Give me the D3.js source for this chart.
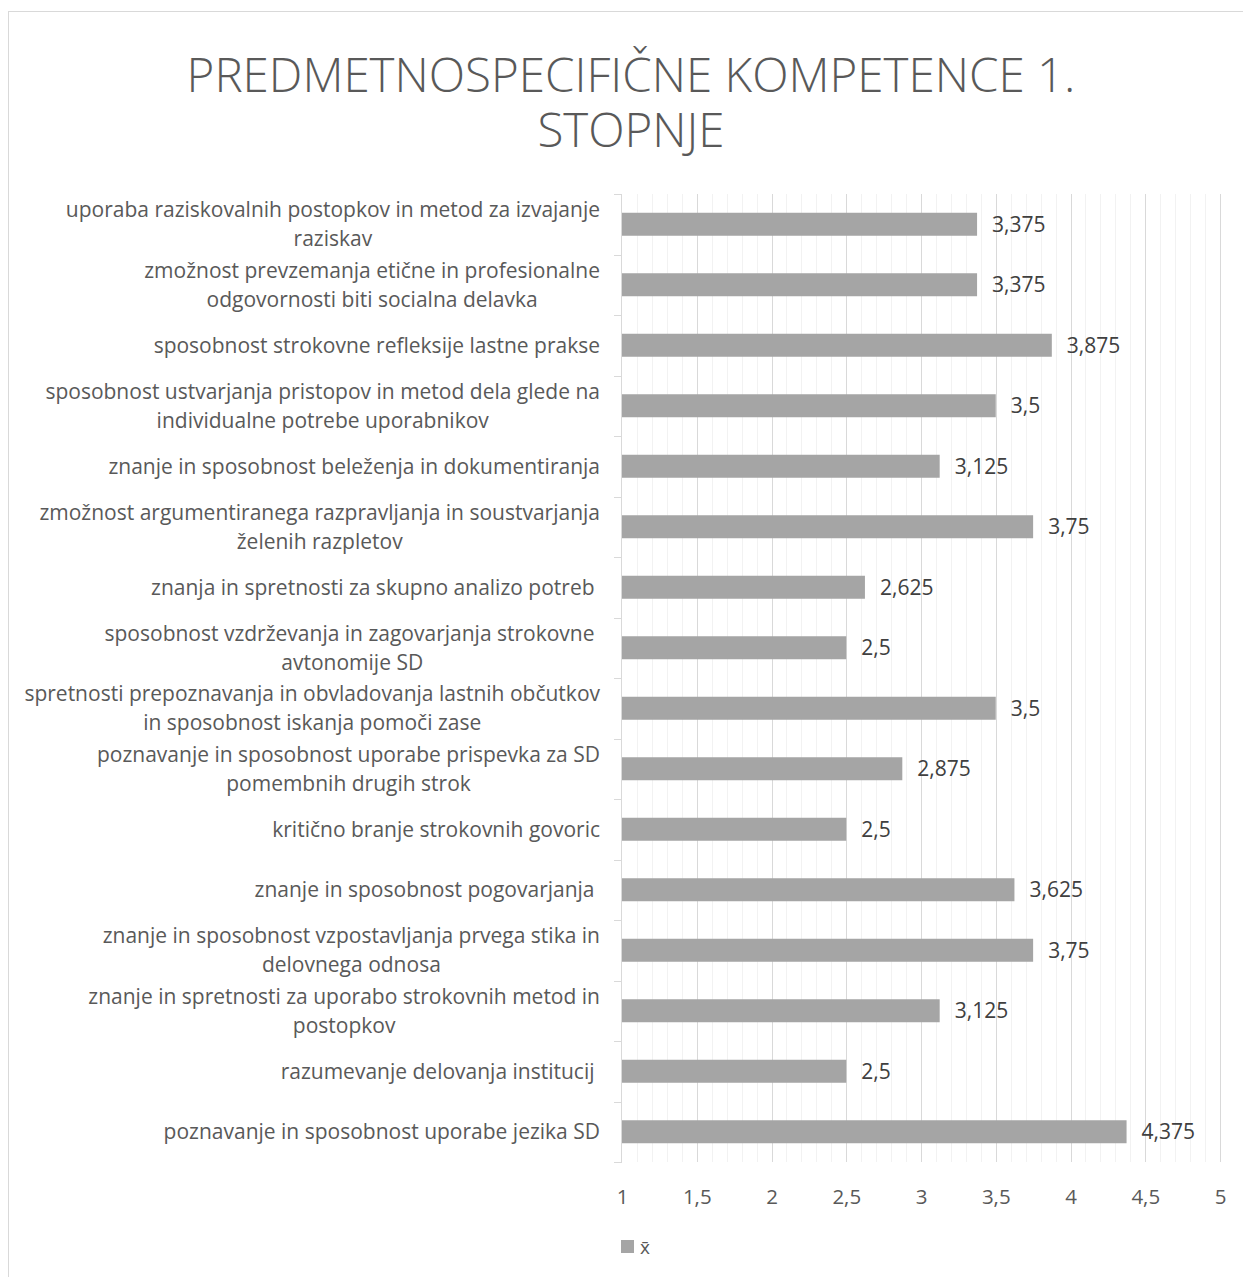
<!DOCTYPE html>
<html>
<head>
<meta charset="utf-8">
<script src="https://cdn.jsdelivr.net/npm/d3@7"></script>
<style>
  body { margin: 0; background: #fff; }
  text { font-family: "Open Sans", sans-serif; white-space: pre; }
</style>
</head>
<body>
<svg id="chart"></svg>
<script>
const titleLines = ['PREDMETNOSPECIFIČNE KOMPETENCE 1.', 'STOPNJE'];

// categories top to bottom, "\n" = line break as in the original
const categories = [
  'uporaba raziskovalnih postopkov in metod za izvajanje\nraziskav',
  'zmožnost prevzemanja etične in profesionalne\nodgovornosti biti socialna delavka',
  'sposobnost strokovne refleksije lastne prakse',
  'sposobnost ustvarjanja pristopov in metod dela glede na\nindividualne potrebe uporabnikov',
  'znanje in sposobnost beleženja in dokumentiranja',
  'zmožnost argumentiranega razpravljanja in soustvarjanja\nželenih razpletov',
  'znanja in spretnosti za skupno analizo potreb ',
  'sposobnost vzdrževanja in zagovarjanja strokovne \navtonomije SD',
  'spretnosti prepoznavanja in obvladovanja lastnih občutkov\nin sposobnost iskanja pomoči zase',
  'poznavanje in sposobnost uporabe prispevka za SD\npomembnih drugih strok',
  'kritično branje strokovnih govoric',
  'znanje in sposobnost pogovarjanja ',
  'znanje in sposobnost vzpostavljanja prvega stika in\ndelovnega odnosa',
  'znanje in spretnosti za uporabo strokovnih metod in\npostopkov',
  'razumevanje delovanja institucij ',
  'poznavanje in sposobnost uporabe jezika SD'
];
const means = [3.375, 3.375, 3.875, 3.5, 3.125, 3.75, 2.625, 2.5, 3.5, 2.875, 2.5, 3.625, 3.75, 3.125, 2.5, 4.375];
const xTicks = [1, 1.5, 2, 2.5, 3, 3.5, 4, 4.5, 5];
const seriesName = 'x\u0304';

const W = 1243, H = 1277;
const margin = { top: 194, right: 23, bottom: 115, left: 622 };
const width = W - margin.left - margin.right;
const height = H - margin.top - margin.bottom;

const svg = d3.select('#chart').attr('width', W).attr('height', H);

// chart frame
svg.append('rect')
  .attr('x', 8.5).attr('y', 11.5)
  .attr('width', W).attr('height', H)
  .attr('fill', 'none').attr('stroke', '#d9d9d9');

svg.append('text')
  .attr('x', 631).attr('y', 92)
  .attr('text-anchor', 'middle')
  .style('font-size', '47.5px').style('font-weight', 300)
  .style('fill', '#595959')
  .selectAll('tspan').data(titleLines).enter().append('tspan')
  .attr('x', 631).attr('dy', (d, i) => i ? 55 : 0)
  .text(d => d);

const chart = svg.append('g')
  .attr('transform', `translate(${margin.left},${margin.top})`);

const x = d3.scaleLinear().domain([1, 5]).range([0, width]);
const y = d3.scaleBand().domain(d3.range(categories.length)).range([0, height]).paddingInner(0.62).paddingOuter(0.31);

// minor gridlines
chart.append('g').selectAll('line')
  .data(d3.range(10, 51).map(d => d / 10).filter(d => Math.round(d * 10) % 5 !== 0))
  .enter().append('line')
  .attr('x1', d => Math.round(x(d)) + 0.5).attr('x2', d => Math.round(x(d)) + 0.5)
  .attr('y1', 0).attr('y2', height)
  .attr('stroke', '#f2f2f2');

// major gridlines
chart.append('g').selectAll('line')
  .data(xTicks.slice(1))
  .enter().append('line')
  .attr('x1', d => Math.round(x(d)) + 0.5).attr('x2', d => Math.round(x(d)) + 0.5)
  .attr('y1', 0).attr('y2', height)
  .attr('stroke', '#d9d9d9');

// x axis labels
const xAxis = chart.append('g')
  .attr('transform', `translate(0,${height})`)
  .call(d3.axisBottom(x).tickValues(xTicks).tickSize(0).tickPadding(27)
    .tickFormat(d => String(d).replace('.', ',')));
xAxis.select('.domain').remove();
xAxis.selectAll('text')
  .style('font-size', '20.5px').style('fill', '#595959').attr('font-family', null);

// y axis line and ticks at category boundaries
const step = y.step();
chart.append('line')
  .attr('x1', -0.5).attr('x2', -0.5).attr('y1', 0).attr('y2', height)
  .attr('stroke', '#d9d9d9');
chart.append('g').selectAll('line')
  .data(d3.range(categories.length + 1))
  .enter().append('line')
  .attr('x1', -8).attr('x2', 0)
  .attr('y1', d => Math.round(d * step) + 0.5).attr('y2', d => Math.round(d * step) + 0.5)
  .attr('stroke', '#d9d9d9');

// bars
chart.append('g').selectAll('rect')
  .data(means)
  .enter().append('rect')
  .attr('x', 0)
  .attr('y', (d, i) => y(i))
  .attr('width', d => x(d))
  .attr('height', y.bandwidth())
  .attr('fill', '#a5a5a5');

// value labels
chart.append('g').selectAll('text')
  .data(means)
  .enter().append('text')
  .attr('x', d => x(d) + 15)
  .attr('y', (d, i) => y(i) + y.bandwidth() / 2)
  .attr('dy', '0.35em')
  .style('font-size', '21px').style('fill', '#404040')
  .text(d => String(d).replace('.', ','));

// category labels: centred block, right edge at x = -22
const lineH = 29;
categories.forEach((c, i) => {
  const lines = c.split('\n');
  const t = chart.append('text')
    .attr('text-anchor', 'middle')
    .style('font-size', '21px').style('fill', '#595959');
  const cy = i * step + step / 2;
  lines.forEach((l, j) => {
    t.append('tspan')
      .attr('y', cy + (j - (lines.length - 1) / 2) * lineH)
      .attr('dy', '0.35em')
      .text(l);
  });
  const maxW = d3.max(t.selectAll('tspan').nodes(), n => n.getComputedTextLength());
  t.selectAll('tspan').attr('x', -22 - maxW / 2);
});

// legend
svg.append('rect')
  .attr('x', 621).attr('y', 1240).attr('width', 13).attr('height', 13)
  .attr('fill', '#a5a5a5');
svg.append('text')
  .attr('x', 640).attr('y', 1254)
  .style('font-size', '19px').style('fill', '#595959')
  .text(seriesName);
</script>
</body>
</html>
